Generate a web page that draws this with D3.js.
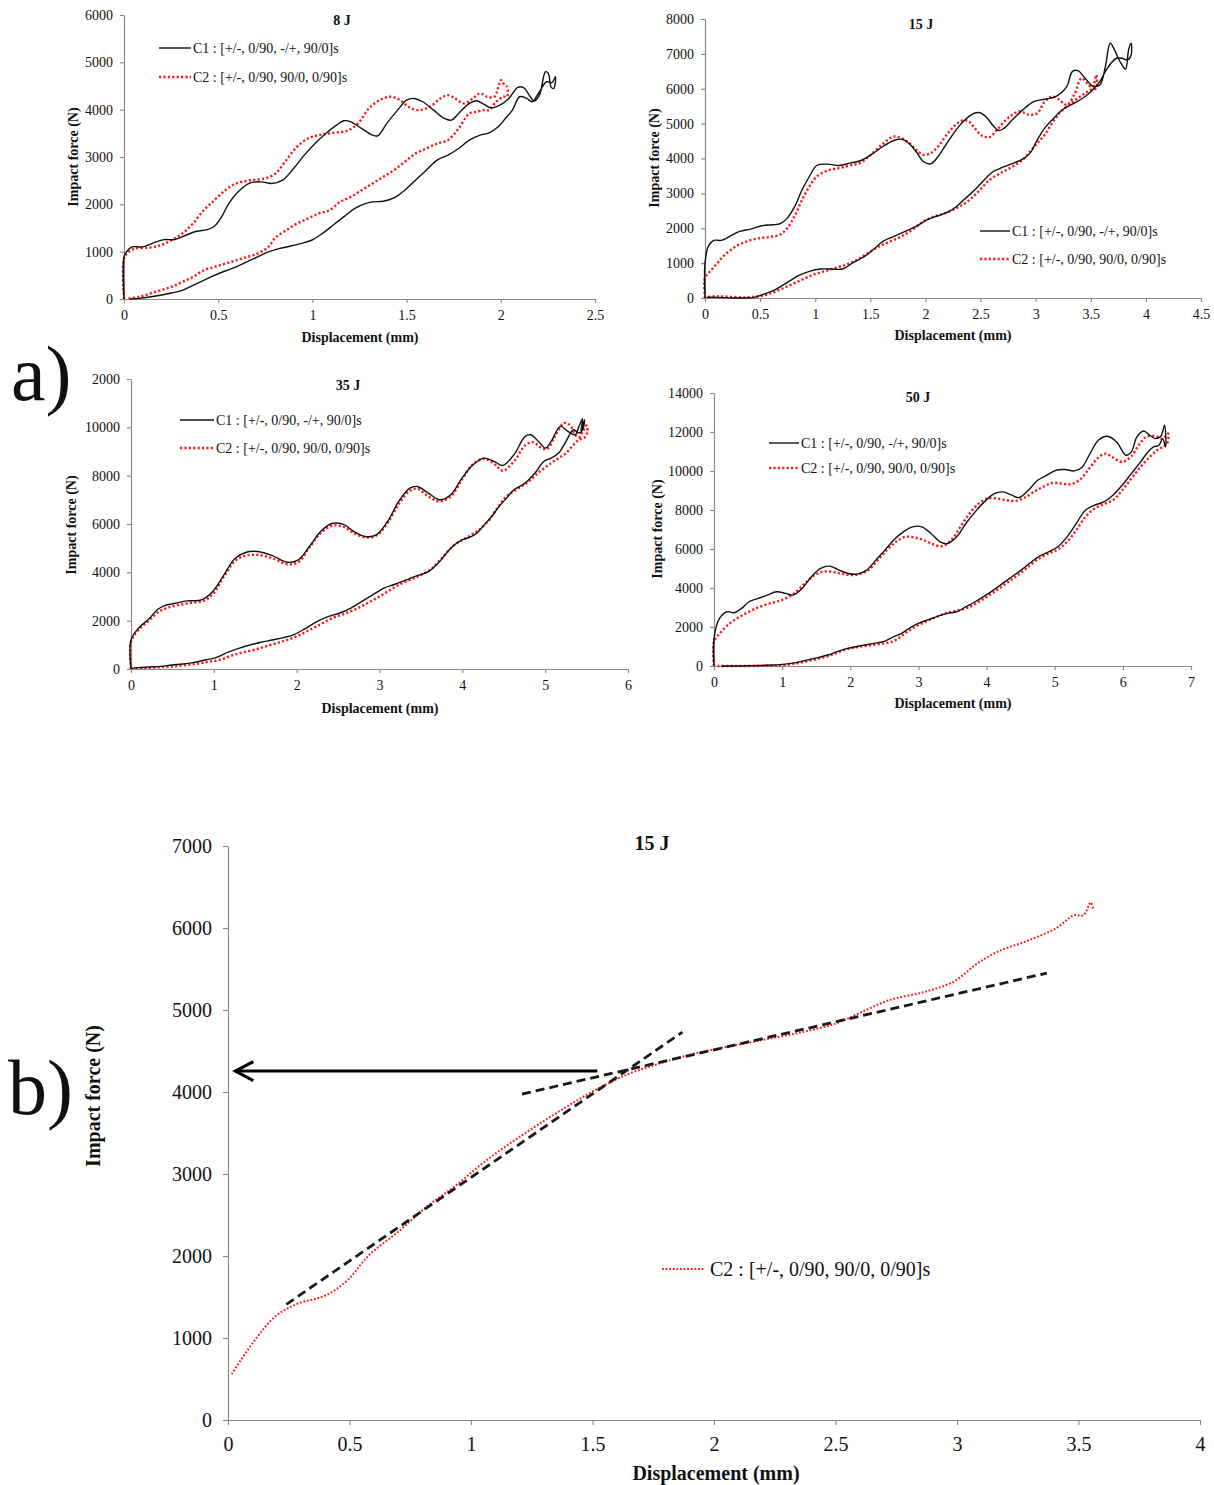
<!DOCTYPE html>
<html>
<head>
<meta charset="utf-8">
<script src="https://cdn.jsdelivr.net/npm/d3@7"></script>
<style>
  html, body { margin: 0; padding: 0; background: #fff; }
  svg { display: block; }
  text { font-family: "Liberation Serif", "Times New Roman", serif; fill: #111; }
</style>
</head>
<body>
<svg id="fig" width="1214" height="1485"></svg>
<script>
// ---------- Legend texts ----------
const legendC1 = "C1 : [+/-, 0/90, -/+, 90/0]s";
const legendC2 = "C2 : [+/-, 0/90, 90/0, 0/90]s";

// ---------- Axis ticks ----------
const xTicks8 = [0, 0.5, 1, 1.5, 2, 2.5];
const yTicks8 = [0, 1000, 2000, 3000, 4000, 5000, 6000];
const xTicks15 = [0, 0.5, 1, 1.5, 2, 2.5, 3, 3.5, 4, 4.5];
const yTicks15 = [0, 1000, 2000, 3000, 4000, 5000, 6000, 7000, 8000];
const xTicks35 = [0, 1, 2, 3, 4, 5, 6];
const yTicks35 = [0, 2000, 4000, 6000, 8000, 10000, 12000];
const yLabels35 = ["0", "2000", "4000", "6000", "8000", "10000", "2000"];
const xTicks50 = [0, 1, 2, 3, 4, 5, 6, 7];
const yTicks50 = [0, 2000, 4000, 6000, 8000, 10000, 12000, 14000];
const xTicksB = [0, 0.5, 1, 1.5, 2, 2.5, 3, 3.5, 4];
const yTicksB = [0, 1000, 2000, 3000, 4000, 5000, 6000, 7000];

// ---------- Force–displacement loops: [displacement (mm), force (N)] ----------
// 8 J
const j8C1 = [[0,0],[0,888],[0.013,994],[0.042,1100],[0.099,1100],[0.156,1184],[0.213,1255],[0.27,1255],[0.328,1347],[0.385,1431],[0.442,1467],[0.48,1537],[0.518,1734],[0.556,2016],[0.614,2299],[0.671,2454],[0.728,2475],[0.785,2440],[0.842,2510],[0.9,2757],[0.957,3039],[1.014,3286],[1.071,3497],[1.128,3673],[1.166,3765],[1.204,3744],[1.261,3603],[1.319,3462],[1.347,3448],[1.395,3709],[1.452,3991],[1.5,4202],[1.538,4237],[1.585,4167],[1.643,3991],[1.7,3815],[1.738,3779],[1.776,3920],[1.833,4132],[1.871,4188],[1.909,4118],[1.947,4040],[1.995,4096],[2.043,4237],[2.09,4470],[2.119,4470],[2.157,4273],[2.176,4181],[2.205,4308],[2.237,4801],[2.252,4766],[2.268,4470],[2.281,4449],[2.29,4696],
  [2.271,4569],[2.243,4590],[2.205,4379],[2.167,4167],[2.138,4237],[2.1,4273],[2.062,3991],[2.024,3815],[1.986,3638],[1.938,3511],[1.89,3462],[1.833,3356],[1.776,3180],[1.719,3039],[1.662,2933],[1.604,2722],[1.547,2510],[1.49,2299],[1.433,2136],[1.376,2066],[1.319,2052],[1.28,2016],[1.223,1911],[1.166,1734],[1.109,1558],[1.052,1382],[0.995,1241],[0.937,1170],[0.88,1114],[0.823,1065],[0.766,994],[0.709,888],[0.652,783],[0.595,677],[0.537,592],[0.48,501],[0.423,395],[0.366,289],[0.309,183],[0.252,127],[0.194,78],[0.137,42],[0.08,14],[0.032,0]];
const j8C2 = [[0,0],[0,853],[0.023,994],[0.061,1065],[0.137,1086],[0.194,1135],[0.252,1241],[0.309,1382],[0.366,1593],[0.423,1875],[0.48,2087],[0.537,2299],[0.595,2440],[0.671,2510],[0.747,2545],[0.804,2651],[0.861,2933],[0.918,3215],[0.976,3391],[1.033,3462],[1.109,3511],[1.185,3554],[1.242,3709],[1.3,4026],[1.357,4202],[1.414,4273],[1.461,4216],[1.509,4061],[1.566,3991],[1.623,4061],[1.68,4237],[1.719,4308],[1.757,4237],[1.804,4132],[1.852,4237],[1.89,4343],[1.928,4273],[1.966,4273],[2.001,4625],[2.02,4519],[2.033,4484],
  [2.033,4273],[2.014,4273],[1.976,4167],[1.938,3991],[1.909,3991],[1.871,3955],[1.833,3920],[1.776,3603],[1.719,3356],[1.662,3286],[1.604,3180],[1.547,3074],[1.49,2898],[1.433,2722],[1.376,2581],[1.319,2440],[1.261,2299],[1.204,2158],[1.147,2052],[1.09,1875],[1.033,1805],[0.976,1699],[0.918,1593],[0.861,1452],[0.804,1297],[0.766,1100],[0.709,959],[0.652,888],[0.595,818],[0.537,747],[0.48,677],[0.423,606],[0.366,465],[0.309,360],[0.252,254],[0.194,183],[0.137,113],[0.08,42],[0.023,7]];

// 15 J
const j15C1 = [[0,0],[0,1002],[0.03,1480],[0.08,1652],[0.147,1652],[0.213,1747],[0.314,1909],[0.414,1976],[0.514,2072],[0.614,2100],[0.68,2129],[0.747,2291],[0.814,2625],[0.881,3103],[0.947,3484],[1.014,3800],[1.114,3838],[1.214,3800],[1.314,3866],[1.414,3943],[1.514,4124],[1.614,4344],[1.714,4516],[1.781,4554],[1.848,4439],[1.915,4200],[1.981,3914],[2.048,3847],[2.115,4057],[2.215,4535],[2.315,4964],[2.415,5251],[2.482,5317],[2.548,5203],[2.615,4936],[2.665,4802],[2.715,4869],[2.782,5088],[2.882,5394],[2.982,5633],[3.082,5699],[3.182,5776],[3.282,6062],[3.332,6492],[3.382,6520],[3.449,6301],[3.516,6081],[3.582,6110],[3.632,6635],[3.676,7303],[3.716,7112],[3.749,6874],[3.789,6654],[3.816,6558],[3.843,7112],[3.866,7303],
  [3.866,6969],[3.833,6826],[3.783,6874],[3.733,6874],[3.683,6730],[3.632,6492],[3.582,6205],[3.516,5967],[3.449,5776],[3.349,5585],[3.249,5413],[3.149,5107],[3.082,4869],[3.015,4535],[2.949,4153],[2.882,3981],[2.782,3847],[2.682,3723],[2.615,3628],[2.548,3437],[2.448,3103],[2.348,2816],[2.282,2625],[2.215,2482],[2.115,2358],[2.015,2243],[1.915,2053],[1.815,1909],[1.714,1766],[1.614,1623],[1.531,1403],[1.448,1193],[1.348,1021],[1.248,831],[1.147,831],[1.047,831],[0.947,764],[0.847,640],[0.747,449],[0.647,258],[0.547,124],[0.447,19],[0.347,0],[0.247,0],[0.113,19],[0.013,19]];
const j15C2 = [[0,0],[0,573],[0.047,764],[0.113,1002],[0.18,1241],[0.28,1480],[0.38,1623],[0.48,1709],[0.58,1747],[0.68,1814],[0.747,2005],[0.814,2358],[0.881,2816],[0.947,3198],[1.014,3484],[1.114,3656],[1.214,3723],[1.314,3800],[1.414,3885],[1.514,4134],[1.614,4420],[1.714,4630],[1.781,4582],[1.848,4458],[1.915,4248],[1.981,4105],[2.048,4153],[2.115,4344],[2.215,4773],[2.315,5060],[2.382,5088],[2.448,4869],[2.515,4649],[2.582,4611],[2.648,4821],[2.748,5155],[2.849,5346],[2.949,5251],[3.015,5298],[3.082,5633],[3.149,5776],[3.216,5680],[3.282,5537],[3.349,5823],[3.416,6301],[3.466,6158],[3.516,6043],[3.549,6396],
  [3.549,6014],[3.499,5967],[3.449,5871],[3.382,5728],[3.282,5489],[3.216,5298],[3.149,5012],[3.082,4678],[3.015,4439],[2.949,4200],[2.882,3962],[2.782,3752],[2.682,3580],[2.582,3389],[2.482,3055],[2.382,2768],[2.282,2578],[2.181,2434],[2.081,2339],[1.981,2196],[1.881,1957],[1.781,1766],[1.681,1623],[1.581,1480],[1.481,1289],[1.381,1098],[1.281,955],[1.181,859],[1.081,764],[0.981,668],[0.881,525],[0.781,382],[0.68,239],[0.58,115],[0.48,48],[0.38,19],[0.247,29],[0.113,48],[0.013,29]];

// 35 J
const j35C1 = [[0,0],[0,1201],[0.09,1685],[0.224,2099],[0.314,2444],[0.404,2624],[0.539,2720],[0.673,2817],[0.853,2858],[0.987,3204],[1.122,3894],[1.257,4584],[1.391,4833],[1.526,4861],[1.706,4695],[1.885,4419],[2.02,4515],[2.154,5068],[2.289,5689],[2.424,6020],[2.558,5993],[2.693,5689],[2.828,5482],[2.962,5551],[3.097,6103],[3.232,6932],[3.366,7484],[3.456,7553],[3.591,7277],[3.725,7001],[3.86,7208],[3.995,7898],[4.129,8451],[4.264,8727],[4.399,8561],[4.488,8423],[4.623,8865],[4.758,9624],[4.825,9694],[4.937,9348],[5.004,9141],[5.072,9417],[5.184,10039],[5.274,9832],[5.363,9694],[5.408,10039],[5.453,10356],[5.431,9832],[5.476,10315],
  [5.453,9901],[5.408,9763],[5.341,9901],[5.251,9417],[5.162,8934],[5.072,8727],[4.982,8589],[4.892,8175],[4.758,7691],[4.623,7415],[4.533,7070],[4.443,6725],[4.354,6310],[4.264,5965],[4.174,5620],[4.084,5441],[3.995,5344],[3.86,4999],[3.725,4446],[3.591,4032],[3.456,3866],[3.321,3687],[3.187,3507],[3.052,3342],[2.917,3065],[2.783,2789],[2.648,2513],[2.513,2306],[2.379,2168],[2.244,1961],[2.11,1685],[1.975,1436],[1.84,1298],[1.706,1201],[1.571,1105],[1.436,994],[1.302,856],[1.167,690],[1.032,483],[0.898,373],[0.763,276],[0.628,207],[0.494,166],[0.359,110],[0.224,83],[0.09,55],[0.009,28]];
const j35C2 = [[0,0],[0,1132],[0.09,1616],[0.224,2030],[0.337,2375],[0.449,2541],[0.583,2651],[0.718,2734],[0.875,2817],[0.987,3093],[1.122,3825],[1.257,4474],[1.391,4695],[1.526,4722],[1.706,4584],[1.885,4336],[2.02,4419],[2.154,5026],[2.289,5620],[2.424,5924],[2.558,5896],[2.693,5620],[2.828,5441],[2.962,5524],[3.097,6034],[3.232,6821],[3.366,7374],[3.456,7457],[3.591,7139],[3.725,6932],[3.86,7139],[3.995,7829],[4.129,8478],[4.264,8699],[4.399,8451],[4.488,8202],[4.623,8589],[4.758,9252],[4.848,9390],[4.96,9141],[5.027,9114],[5.117,9624],[5.229,10177],[5.296,10108],[5.363,9694],[5.408,9583],[5.453,9832],[5.498,10080],[5.511,9832],
  [5.476,9583],[5.408,9486],[5.341,9279],[5.251,8934],[5.162,8727],[5.072,8520],[4.937,8175],[4.803,7760],[4.668,7457],[4.533,7139],[4.421,6656],[4.309,6103],[4.174,5689],[4.039,5413],[3.905,5137],[3.77,4654],[3.636,4170],[3.501,3894],[3.366,3687],[3.232,3480],[3.097,3204],[2.962,2927],[2.828,2679],[2.693,2444],[2.558,2265],[2.424,2099],[2.289,1850],[2.154,1616],[2.02,1381],[1.885,1201],[1.75,1063],[1.616,925],[1.481,787],[1.347,690],[1.212,552],[1.077,387],[0.943,304],[0.808,221],[0.673,166],[0.539,110],[0.404,83],[0.269,55],[0.135,41],[0.022,28]];

// 50 J
const j50C1 = [[0,0],[0,1417],[0.081,2442],[0.189,2783],[0.297,2732],[0.405,2954],[0.513,3295],[0.648,3466],[0.783,3637],[0.917,3807],[1.052,3722],[1.16,3637],[1.295,3978],[1.43,4576],[1.565,5003],[1.7,5122],[1.835,4917],[1.97,4746],[2.105,4712],[2.24,4917],[2.375,5429],[2.509,5942],[2.644,6488],[2.779,6881],[2.914,7137],[3.049,7137],[3.184,6795],[3.319,6368],[3.427,6283],[3.562,6625],[3.697,7308],[3.832,7905],[3.967,8417],[4.101,8810],[4.236,8930],[4.371,8759],[4.479,8639],[4.614,9015],[4.749,9527],[4.884,9783],[5.019,10039],[5.154,10074],[5.289,10005],[5.397,10176],[5.505,10808],[5.64,11576],[5.774,11781],[5.909,11491],[6.044,10808],[6.125,10979],[6.206,11747],[6.303,12054],[6.395,11832],[6.476,11661],[6.557,11781],[6.611,12344],[6.627,11234],
  [6.584,11661],[6.53,11320],[6.449,11234],[6.368,10979],[6.26,10466],[6.125,9868],[5.99,9271],[5.855,8759],[5.72,8417],[5.586,8247],[5.451,7991],[5.316,7308],[5.181,6625],[5.046,6112],[4.911,5856],[4.776,5634],[4.641,5293],[4.506,4917],[4.371,4576],[4.236,4234],[4.101,3893],[3.967,3585],[3.832,3295],[3.697,3039],[3.562,2783],[3.427,2698],[3.292,2561],[3.157,2390],[3.022,2220],[2.887,1981],[2.752,1673],[2.617,1468],[2.482,1246],[2.348,1161],[2.213,1076],[2.078,990],[1.943,888],[1.808,734],[1.673,563],[1.538,444],[1.403,341],[1.268,222],[1.133,137],[0.998,85],[0.863,51],[0.702,34],[0.54,17],[0.324,0],[0.108,0]];
const j50C2 = [[0,0],[0,1246],[0.108,1759],[0.243,2220],[0.378,2527],[0.513,2783],[0.648,3005],[0.783,3176],[0.917,3295],[1.052,3466],[1.187,3756],[1.322,4200],[1.457,4610],[1.592,4832],[1.727,4832],[1.862,4746],[1.997,4661],[2.132,4712],[2.267,4917],[2.402,5429],[2.536,5942],[2.671,6368],[2.806,6625],[2.941,6590],[3.076,6454],[3.211,6249],[3.346,6146],[3.481,6454],[3.616,7137],[3.751,7820],[3.886,8332],[4.02,8588],[4.155,8588],[4.29,8503],[4.425,8469],[4.56,8639],[4.695,8930],[4.83,9186],[4.965,9390],[5.1,9356],[5.235,9322],[5.37,9561],[5.505,10124],[5.64,10688],[5.748,10893],[5.855,10688],[5.99,10466],[6.125,10756],[6.233,11320],[6.341,11747],[6.476,11781],[6.584,11661],[6.665,11918],
  [6.649,11405],[6.584,11234],[6.503,11064],[6.395,10722],[6.26,10210],[6.125,9612],[5.99,9015],[5.855,8503],[5.72,8298],[5.586,8076],[5.451,7649],[5.316,6966],[5.181,6368],[5.046,5976],[4.911,5771],[4.776,5515],[4.641,5173],[4.506,4781],[4.371,4439],[4.236,4098],[4.101,3773],[3.967,3466],[3.832,3176],[3.697,2954],[3.562,2834],[3.427,2732],[3.292,2561],[3.157,2356],[3.022,2134],[2.887,1878],[2.752,1537],[2.617,1246],[2.482,1161],[2.348,1076],[2.213,1024],[2.078,956],[1.943,854],[1.808,683],[1.673,512],[1.538,376],[1.403,273],[1.268,171],[1.133,102],[0.998,34],[0.863,17],[0.648,0],[0.324,0],[0.054,0]];

// 15 J, C2 loading branch with the two tangent lines and the read-off force
const b15C2 = [[0.015,560],[0.104,948],[0.193,1259],[0.283,1415],[0.4,1518],[0.49,1700],[0.58,2010],[0.7,2295],[0.82,2606],[0.94,2865],[1.056,3150],[1.204,3461],[1.353,3746],[1.5,4005],[1.65,4223],[1.77,4342],[1.89,4446],[2.007,4523],[2.186,4627],[2.364,4731],[2.5,4834],[2.6,4964],[2.72,5119],[2.87,5223],[2.99,5352],[3.08,5560],[3.17,5715],[3.29,5845],[3.41,6000],[3.48,6155],[3.52,6155],[3.55,6311],[3.56,6233]];
const tangentInitial = [[0.24,1410],[1.87,4730]];
const tangentLate = [[1.21,3975],[3.37,5450]];
const readoutForce = [[1.52,4255],[0.03,4255]];

// ---------- Drawing ----------
const svg = d3.select("#fig");

const panels = [
  { title: "8 J", box: {l:124, r:595, t:15, b:299}, xDomain:[0,2.5], yDomain:[0,6000],
    xTicks: xTicks8, yTicks: yTicks8, yLabels: null,
    series: [j8C1, j8C2], legend: {x1:159, x2:191, y:[48,77]},
    titlePos: [342, 20], yLab: [73, 157], xLab: [360, 337], fs: 14 },
  { title: "15 J", box: {l:705, r:1201, t:19, b:298}, xDomain:[0,4.5], yDomain:[0,8000],
    xTicks: xTicks15, yTicks: yTicks15, yLabels: null,
    series: [j15C1, j15C2], legend: {x1:980, x2:1010, y:[231,259]},
    titlePos: [921, 24], yLab: [654, 158], xLab: [953, 335], fs: 14 },
  { title: "35 J", box: {l:131, r:628, t:379, b:669}, xDomain:[0,6], yDomain:[0,12000],
    xTicks: xTicks35, yTicks: yTicks35, yLabels: yLabels35,
    series: [j35C1, j35C2], legend: {x1:180, x2:214, y:[420,448]},
    titlePos: [348, 385], yLab: [71, 525], xLab: [380, 708], fs: 14 },
  { title: "50 J", box: {l:714, r:1191, t:393, b:666}, xDomain:[0,7], yDomain:[0,14000],
    xTicks: xTicks50, yTicks: yTicks50, yLabels: null,
    series: [j50C1, j50C2], legend: {x1:769, x2:799, y:[443,468]},
    titlePos: [918, 397], yLab: [657, 529], xLab: [953, 703], fs: 14 }
];

const axisGrey = "#8a8a8a";
const red = "#ff1a1a";

function drawAxes(g, p, x, y, opt) {
  const xa = g.append("g").attr("transform", `translate(0,${p.box.b})`)
    .call(d3.axisBottom(x).tickValues(p.xTicks).tickFormat(d3.format("~g"))
      .tickSize(opt.tick).tickSizeOuter(0).tickPadding(opt.padX));
  const ya = g.append("g").attr("transform", `translate(${p.box.l},0)`)
    .call(d3.axisLeft(y).tickValues(p.yTicks)
      .tickFormat((d, i) => p.yLabels ? p.yLabels[i] : String(d))
      .tickSize(opt.tick).tickSizeOuter(0).tickPadding(opt.padY));
  [xa, ya].forEach(a => {
    a.select(".domain").attr("stroke", axisGrey).attr("stroke-width", 1.2);
    a.selectAll(".tick line").attr("stroke", axisGrey).attr("stroke-width", 1.2);
    a.selectAll(".tick text").attr("font-family", "Liberation Serif, serif")
      .attr("font-size", opt.fs).attr("fill", "#222");
  });
}

panels.forEach(p => {
  const g = svg.append("g");
  const x = d3.scaleLinear().domain(p.xDomain).range([p.box.l, p.box.r]);
  const y = d3.scaleLinear().domain(p.yDomain).range([p.box.b, p.box.t]);
  drawAxes(g, p, x, y, { tick: 4, padX: 7, padY: 7, fs: p.fs });

  const line = d3.line().x(d => x(d[0])).y(d => y(d[1])).curve(d3.curveCatmullRom.alpha(0.5));
  // C2 first so C1 sits on top of it
  g.append("path").datum(p.series[1]).attr("d", line)
    .attr("fill", "none").attr("stroke", red).attr("stroke-width", 2.4)
    .attr("stroke-dasharray", "2.2,2.2");
  g.append("path").datum(p.series[0]).attr("d", line)
    .attr("fill", "none").attr("stroke", "#111").attr("stroke-width", 1.4);

  // legend
  const L = p.legend;
  g.append("line").attr("x1", L.x1).attr("x2", L.x2).attr("y1", L.y[0]).attr("y2", L.y[0])
    .attr("stroke", "#111").attr("stroke-width", 1.4);
  g.append("line").attr("x1", L.x1).attr("x2", L.x2).attr("y1", L.y[1]).attr("y2", L.y[1])
    .attr("stroke", red).attr("stroke-width", 2.4).attr("stroke-dasharray", "2.2,2.2");
  g.append("text").attr("x", L.x2 + 2).attr("y", L.y[0] + 5).attr("font-size", p.fs).text(legendC1);
  g.append("text").attr("x", L.x2 + 2).attr("y", L.y[1] + 5).attr("font-size", p.fs).text(legendC2);

  // titles
  g.append("text").attr("x", p.titlePos[0]).attr("y", p.titlePos[1] + 5)
    .attr("text-anchor", "middle").attr("font-weight", "bold").attr("font-size", p.fs).text(p.title);
  g.append("text").attr("x", p.xLab[0]).attr("y", p.xLab[1] + 5)
    .attr("text-anchor", "middle").attr("font-weight", "bold").attr("font-size", p.fs).text("Displacement (mm)");
  g.append("text").attr("transform", `translate(${p.yLab[0] + 5},${p.yLab[1]}) rotate(-90)`)
    .attr("text-anchor", "middle").attr("font-weight", "bold").attr("font-size", p.fs).text("Impact force (N)");
});

// ---------- Panel b: 15 J, C2 with tangents ----------
{
  const p = { box: {l:228, r:1200, t:846, b:1420}, xTicks: xTicksB, yTicks: yTicksB, yLabels: null };
  const g = svg.append("g");
  const x = d3.scaleLinear().domain([0, 4]).range([p.box.l, p.box.r]);
  const y = d3.scaleLinear().domain([0, 7000]).range([p.box.b, p.box.t]);
  drawAxes(g, p, x, y, { tick: 5, padX: 12, padY: 11, fs: 20 });

  const line = d3.line().x(d => x(d[0])).y(d => y(d[1]));
  g.append("path").datum(b15C2).attr("d", line.curve(d3.curveCatmullRom.alpha(0.5)))
    .attr("fill", "none").attr("stroke", red).attr("stroke-width", 2)
    .attr("stroke-dasharray", "1.8,1.8");

  const straight = d3.line().x(d => x(d[0])).y(d => y(d[1]));
  [tangentInitial, tangentLate].forEach(t => {
    g.append("path").datum(t).attr("d", straight)
      .attr("fill", "none").attr("stroke", "#1a1a1a").attr("stroke-width", 2.8)
      .attr("stroke-dasharray", "9,5");
  });

  // arrow pointing at the force axis
  const a1 = readoutForce[1];
  g.append("path").datum(readoutForce).attr("d", straight)
    .attr("fill", "none").attr("stroke", "#000").attr("stroke-width", 3);
  const tipX = x(a1[0]), tipY = y(a1[1]);
  g.append("path")
    .attr("d", `M${tipX + 18},${tipY - 9.5}L${tipX},${tipY}L${tipX + 18},${tipY + 9.5}`)
    .attr("fill", "none").attr("stroke", "#000").attr("stroke-width", 3);

  // legend
  g.append("line").attr("x1", 662).attr("x2", 705).attr("y1", 1269).attr("y2", 1269)
    .attr("stroke", red).attr("stroke-width", 2).attr("stroke-dasharray", "1.8,1.8");
  g.append("text").attr("x", 710).attr("y", 1276).attr("font-size", 20).text(legendC2);

  g.append("text").attr("x", 652).attr("y", 850).attr("text-anchor", "middle")
    .attr("font-weight", "bold").attr("font-size", 20).text("15 J");
  g.append("text").attr("x", 716).attr("y", 1480).attr("text-anchor", "middle")
    .attr("font-weight", "bold").attr("font-size", 20).text("Displacement (mm)");
  g.append("text").attr("transform", "translate(100,1096) rotate(-90)")
    .attr("text-anchor", "middle").attr("font-weight", "bold").attr("font-size", 20).text("Impact force (N)");
}

// sub-figure letters
svg.append("text").attr("x", 11).attr("y", 400).attr("font-size", 78).attr("fill", "#000").text("a)");
svg.append("text").attr("x", 8).attr("y", 1114).attr("font-size", 78).attr("fill", "#000").text("b)");
</script>
</body>
</html>
